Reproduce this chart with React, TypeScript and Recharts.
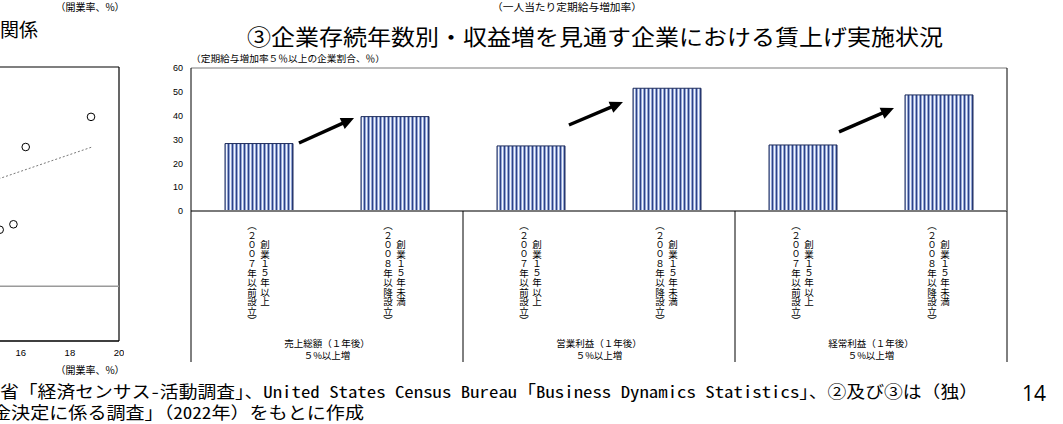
import React from "react";
import {
  BarChart,
  Bar,
  XAxis,
  YAxis,
  ReferenceLine,
  ScatterChart,
  Scatter,
} from "recharts";

const JP = "'Noto Sans CJK JP', sans-serif";
const NOTE = "'Noto Sans Mono CJK JP', 'Noto Sans CJK JP', sans-serif";
const NARROW = "'Liberation Sans Narrow', 'Liberation Sans', sans-serif";

// ③ bar chart
const barPositions = [0, 1, 2, 3, 4, 5];
const shares = [28.3, 39.6, 27.3, 51.5, 27.7, 48.7];
const ageLabels = ["創業１５年以上", "創業１５年未満", "創業１５年以上", "創業１５年未満", "創業１５年以上", "創業１５年未満"];
const foundedLabels = [
  "（２００７年以前設立）",
  "（２００８年以降設立）",
  "（２００７年以前設立）",
  "（２００８年以降設立）",
  "（２００７年以前設立）",
  "（２００８年以降設立）",
];
const groupNames = ["売上総額（１年後）", "営業利益（１年後）", "経常利益（１年後）"];
const groupSub = "５%以上増";
const yTicks = [0, 10, 20, 30, 40, 50, 60];
const xTicks = [-0.5, 0, 0.5, 1, 1.5, 2, 2.5, 3, 3.5, 4, 4.5, 5, 5.5];
// arrows (start / end in data units)
const arrowStartX = [0.294, 2.279, 4.265];
const arrowStartY = [28.5, 36.1, 33.2];
const arrowEndX = [0.699, 2.676, 4.669];
const arrowEndY = [39.0, 45.7, 43.2];

// ② scatter (only the right edge is visible)
const openRate = [15.14, 15.7, 16.2, 18.86];
const pointValue = [1.03, 1.13, 2.54, 3.09];
const trendX = [10, 18.9];
const trendY = [1.18, 2.54];
const scatterTicks = [16, 18, 20];

const barData = barPositions.map((pos, i) => ({ pos, share: shares[i] }));
const scatterData = openRate.map((x, i) => ({ x, y: pointValue[i] }));

const Arrow = (p: any) => {
  const { x1, y1, x2, y2 } = p;
  const dx = x2 - x1;
  const dy = y2 - y1;
  const len = Math.hypot(dx, dy) || 1;
  const ux = dx / len;
  const uy = dy / len;
  const head = 13;
  const half = 6;
  const bx = x2 - ux * head;
  const by = y2 - uy * head;
  return (
    <g>
      <line x1={x1} y1={y1} x2={bx + ux * 2} y2={by + uy * 2} stroke="#000" strokeWidth={3.4} />
      <polygon
        points={`${x2},${y2} ${bx - uy * half},${by + ux * half} ${bx + uy * half},${by - ux * half}`}
        fill="#000"
      />
    </g>
  );
};

const XTick = (props: any) => {
  const { x, y, payload } = props;
  const v = payload.value as number;
  if (Number.isInteger(v)) {
    const mid = y + 62;
    const st = { writingMode: "vertical-rl" as const };
    return (
      <g fontFamily={JP} fontSize={9.5} fill="#000">
        <text x={x + 6} y={mid} textAnchor="middle" style={st}>
          {ageLabels[v]}
        </text>
        <text x={x - 7} y={mid} textAnchor="middle" style={st}>
          {foundedLabels[v]}
        </text>
      </g>
    );
  }
  const g = (v - 0.5) / 2;
  if (Number.isInteger(g)) {
    return (
      <g fontFamily={JP} fontSize={9.5} fill="#000">
        <text x={x} y={y + 136} textAnchor="middle">
          {groupNames[g]}
        </text>
        <text x={x} y={y + 148} textAnchor="middle">
          {groupSub}
        </text>
      </g>
    );
  }
  return <line x1={x} y1={y} x2={x} y2={y + 151} stroke="#000" strokeWidth={1} />;
};

const Dot = (p: any) => <circle cx={p.cx} cy={p.cy} r={3.8} fill="#fff" stroke="#000" strokeWidth={1} />;

export default function App() {
  return (
    <div
      style={{
        position: "absolute",
        left: 0,
        top: 0,
        width: 1063,
        height: 424,
        overflow: "hidden",
        background: "#fff",
      }}
    >
      <svg width={0} height={0} style={{ position: "absolute" }}>
        <defs>
          <pattern id="stripes" patternUnits="userSpaceOnUse" width={4} height={10}>
            <rect width={4} height={10} fill="#93a7d6" />
            <rect x={0} width={1} height={10} fill="#2f4286" />
            <rect x={2} width={1} height={10} fill="#f4f6fc" />
          </pattern>
        </defs>
      </svg>

      <div style={{ position: "absolute", left: -372, top: 0 }}>
        <ScatterChart width={496} height={370} margin={{ top: 67, right: 5, left: 0, bottom: 0 }}>
          <XAxis
            type="number"
            dataKey="x"
            domain={[0, 20]}
            ticks={scatterTicks}
            interval={0}
            tickLine={false}
            axisLine={{ stroke: "#000", strokeWidth: 1.2 }}
            height={29}
            tick={{ fontSize: 9.5, fill: "#000", fontFamily: NARROW }}
          />
          <YAxis type="number" dataKey="y" domain={[-1, 4]} hide width={0} />
          <ReferenceLine y={4} stroke="#000" strokeWidth={1.2} ifOverflow="visible" />
          <ReferenceLine y={-1} stroke="#000" strokeWidth={1.2} ifOverflow="visible" />
          <ReferenceLine x={20} stroke="#000" strokeWidth={1.2} ifOverflow="visible" />
          <ReferenceLine y={0} stroke="#9a9a9a" strokeWidth={1.5} />
          <ReferenceLine
            segment={[
              { x: trendX[0], y: trendY[0] },
              { x: trendX[1], y: trendY[1] },
            ]}
            stroke="#555"
            strokeDasharray="2 2"
            strokeWidth={0.8}
          />
          <Scatter data={scatterData} shape={Dot} isAnimationActive={false} />
        </ScatterChart>
      </div>

      <div style={{ position: "absolute", left: 0, top: 0 }}>
        <BarChart width={1063} height={370} data={barData} margin={{ top: 68, right: 56, left: 0, bottom: 0 }}>
          <XAxis
            type="number"
            dataKey="pos"
            domain={[-0.5, 5.5]}
            allowDataOverflow
            ticks={xTicks}
            interval={0}
            tickLine={false}
            tickSize={0}
            tickMargin={0}
            height={159}
            axisLine={{ stroke: "#7a7a7a", strokeWidth: 2 }}
            tick={XTick}
          />
          <YAxis
            domain={[0, 60]}
            ticks={yTicks}
            interval={0}
            width={191}
            tickLine={false}
            axisLine={{ stroke: "#000" }}
            tick={{ fontSize: 9, fill: "#000", fontFamily: NARROW }}
          />
          <ReferenceLine y={60} stroke="#7a7a7a" strokeWidth={1.2} />
          <ReferenceLine x={5.5} stroke="#000" strokeWidth={1} />
          <Bar dataKey="share" barSize={68} fill="url(#stripes)" stroke="#1f2d5c" strokeWidth={1} isAnimationActive={false} />
          {arrowStartX.map((sx, i) => (
            <ReferenceLine
              key={i}
              segment={[
                { x: sx, y: arrowStartY[i] },
                { x: arrowEndX[i], y: arrowEndY[i] },
              ]}
              shape={Arrow}
            />
          ))}
        </BarChart>
      </div>

      <svg width={1063} height={424} style={{ position: "absolute", left: 0, top: 0, pointerEvents: "none" }}>
        <g fontFamily={JP} fill="#000">
          <text x={90} y={11} fontSize={10} textAnchor="middle">
            （開業率、%）
          </text>
          <text x={0} y={37} fontSize={19}>
            関係
          </text>
          <text x={90} y={373.5} fontSize={10} textAnchor="middle">
            （開業率、%）
          </text>
          <text x={492} y={10.5} fontSize={10} textLength={150} lengthAdjust="spacingAndGlyphs">
            （一人当たり定期給与増加率）
          </text>
          <text x={247} y={45} fontSize={22} textLength={696} lengthAdjust="spacingAndGlyphs">
            ③企業存続年数別・収益増を見通す企業における賃上げ実施状況
          </text>
          <text x={191} y={62} fontSize={9} textLength={194} lengthAdjust="spacingAndGlyphs">
            （定期給与増加率５％以上の企業割合、％）
          </text>
        </g>
        <g fontFamily={NOTE} fill="#000" fontSize={16.5}>
          <text x={0} y={398} textLength={978} lengthAdjust="spacingAndGlyphs">
            省「経済センサス-活動調査」、United States Census Bureau「Business Dynamics Statistics」、②及び③は（独）
          </text>
          <text x={-8} y={419} textLength={372} lengthAdjust="spacingAndGlyphs">
            金決定に係る調査」（2022年）をもとに作成
          </text>
        </g>
        <text x={1022} y={401} fontSize={21} fontFamily="'Open Sans', 'Noto Sans', sans-serif" fill="#000">
          14
        </text>
      </svg>
    </div>
  );
}
